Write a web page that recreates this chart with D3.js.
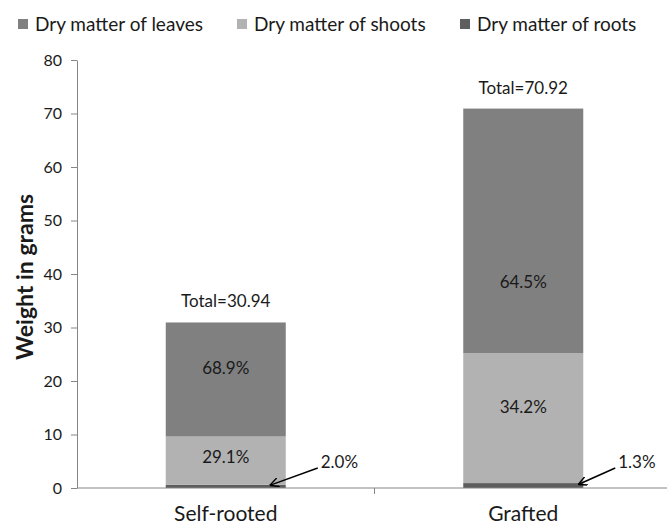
<!DOCTYPE html>
<html>
<head>
<meta charset="utf-8">
<script src="https://cdn.jsdelivr.net/npm/d3@7"></script>
<style>
  body { margin: 0; background: #fff; }
  svg { display: block; font-family: Lato, "Open Sans", sans-serif; }
</style>
</head>
<body>
<script>
// chart data
var categories = ["Self-rooted", "Grafted"];
var seriesNames = ["Dry matter of leaves", "Dry matter of shoots", "Dry matter of roots"];
var leaves = [21.32, 45.74];
var shoots = [9.00, 24.26];
var roots  = [0.62, 0.92];
var totals = [30.94, 70.92];
var leafPct  = ["68.9%", "64.5%"];
var shootPct = ["29.1%", "34.2%"];
var rootPct  = ["2.0%", "1.3%"];
var yTicks = [0, 10, 20, 30, 40, 50, 60, 70, 80];

var width = 667, height = 527;
var colors = {
	"Dry matter of leaves": "#808080",
	"Dry matter of shoots": "#b2b2b2",
	"Dry matter of roots":  "#5e5e5e"
};
var axisColor = "#868686";
var textColor = "#1a1a1a";
// labels were dragged by hand in the original, so nudge them (px)
var leafNudge  = [-11, 51];
var shootNudge = [-4, -11];
var arrowTipDx = [-16, -5];

var rows = categories.map(function (c, i) {
	return { cat: c, leaves: leaves[i], shoots: shoots[i], roots: roots[i], i: i };
});

var svg = d3.select("body").append("svg")
	.attr("width", width)
	.attr("height", height);

var y = d3.scaleLinear().domain([0, 80]).range([488, 60]);
var x = d3.scaleBand().domain(categories).range([77, 672])
	.paddingInner(0.5966).paddingOuter(0.2983);

var stack = d3.stack().keys(["roots", "shoots", "leaves"]);
var layers = stack(rows);
var keyName = { roots: "Dry matter of roots", shoots: "Dry matter of shoots", leaves: "Dry matter of leaves" };

// bars
svg.append("g").selectAll("g")
	.data(layers)
	.enter().append("g")
	.attr("fill", function (d) { return colors[keyName[d.key]]; })
	.selectAll("rect")
	.data(function (d) { return d; })
	.enter().append("rect")
	.attr("x", function (d) { return x(d.data.cat); })
	.attr("width", x.bandwidth())
	.attr("y", function (d) { return y(d[1]); })
	.attr("height", function (d) { return y(d[0]) - y(d[1]); });

// y axis
var yAxis = svg.append("g")
	.attr("transform", "translate(77,0)")
	.call(d3.axisLeft(y).tickValues(yTicks).tickSize(6).tickSizeOuter(0).tickPadding(9));
yAxis.select(".domain").attr("stroke", axisColor);
yAxis.selectAll(".tick line").attr("stroke", axisColor);
yAxis.selectAll(".tick text")
	.attr("fill", textColor)
	.style("font-size", "16px")
	.style("font-family", "Lato, sans-serif");

// x axis line with ticks between categories
var xg = svg.append("g");
xg.append("line")
	.attr("x1", x.range()[0]).attr("x2", x.range()[1])
	.attr("y1", y(0)).attr("y2", y(0))
	.attr("stroke", axisColor);
xg.selectAll("line.tk")
	.data(categories)
	.enter().append("line")
	.attr("class", "tk")
	.attr("x1", function (c) { return x(c) + x.bandwidth() / 2 + x.step() / 2; })
	.attr("x2", function (c) { return x(c) + x.bandwidth() / 2 + x.step() / 2; })
	.attr("y1", y(0)).attr("y2", y(0) + 6)
	.attr("stroke", axisColor);
xg.selectAll("text")
	.data(categories)
	.enter().append("text")
	.attr("x", function (c) { return x(c) + x.bandwidth() / 2; })
	.attr("y", 521)
	.attr("text-anchor", "middle")
	.attr("fill", textColor)
	.style("font-size", "21px")
	.text(function (c) { return c; });

// y title
svg.append("text")
	.attr("transform", "translate(33,277) rotate(-90)")
	.attr("text-anchor", "middle")
	.attr("fill", textColor)
	.style("font-size", "23px")
	.style("font-weight", "bold")
	.text("Weight in grams");

// totals
svg.append("g").selectAll("text")
	.data(rows)
	.enter().append("text")
	.attr("x", function (d) { return x(d.cat) + x.bandwidth() / 2; })
	.attr("y", function (d) { return y(totals[d.i]) - 15; })
	.attr("text-anchor", "middle")
	.attr("fill", textColor)
	.style("font-size", "17px")
	.text(function (d) { return "Total=" + totals[d.i].toFixed(2); });

// percentage labels inside segments
var segLabels = svg.append("g")
	.attr("text-anchor", "middle")
	.attr("fill", textColor)
	.style("font-size", "17px");
rows.forEach(function (d) {
	var cx = x(d.cat) + x.bandwidth() / 2;
	var leafMid  = y(d.roots + d.shoots + d.leaves / 2) + leafNudge[d.i];
	var shootMid = y(d.roots + d.shoots / 2) + shootNudge[d.i];
	segLabels.append("text").attr("x", cx).attr("y", leafMid).attr("dy", "0.35em").text(leafPct[d.i]);
	segLabels.append("text").attr("x", cx).attr("y", shootMid).attr("dy", "0.35em").text(shootPct[d.i]);
});

// arrows for the thin root segments
svg.append("defs").append("marker")
	.attr("id", "head")
	.attr("viewBox", "0 0 10 10")
	.attr("refX", 10).attr("refY", 5)
	.attr("markerWidth", 9).attr("markerHeight", 9)
	.attr("markerUnits", "userSpaceOnUse")
	.attr("orient", "auto")
	.append("path")
	.attr("d", "M0,0 L10,5 L0,10")
	.attr("fill", "none")
	.attr("stroke", "#000")
	.attr("stroke-width", 1.6);

var arrows = svg.append("g");
rows.forEach(function (d) {
	var right = x(d.cat) + x.bandwidth();
	var tipX = right + arrowTipDx[d.i];
	var tipY = y(d.roots / 2) - 1;
	var tx = right + 35, ty = y(0) - 26;
	arrows.append("line")
		.attr("x1", tx - 3).attr("y1", ty + 6)
		.attr("x2", tipX).attr("y2", tipY)
		.attr("stroke", "#000")
		.attr("stroke-width", 1.5)
		.attr("marker-end", "url(#head)");
	arrows.append("text")
		.attr("x", tx).attr("y", ty)
		.attr("dy", "0.35em")
		.attr("fill", textColor)
		.style("font-size", "17px")
		.text(rootPct[d.i]);
});

// legend
var legendX = [18, 237, 460];
var legend = svg.append("g").selectAll("g")
	.data(seriesNames)
	.enter().append("g")
	.attr("transform", function (d, i) { return "translate(" + legendX[i] + ",19)"; });
legend.append("rect")
	.attr("width", 10).attr("height", 10)
	.attr("fill", function (d) { return colors[d]; });
legend.append("text")
	.attr("x", 17).attr("y", 5)
	.attr("dy", "0.35em")
	.attr("fill", textColor)
	.style("font-size", "19px")
	.text(function (d) { return d; });
</script>
</body>
</html>
